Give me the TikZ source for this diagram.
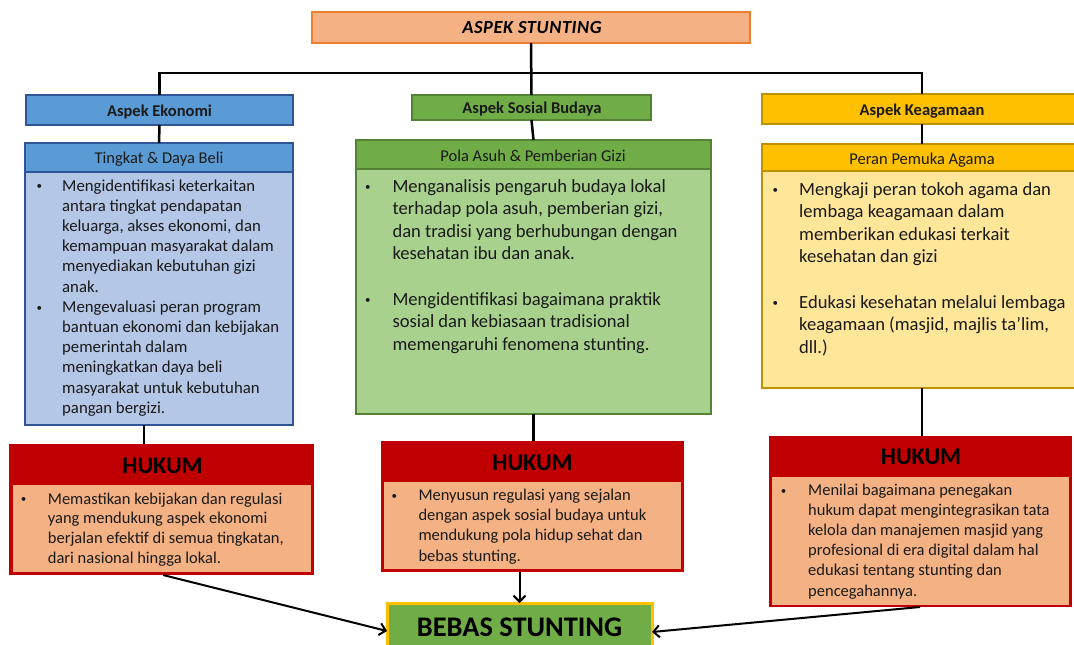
\documentclass[tikz,border=0pt]{standalone}
\usepackage{fontspec}
\setmainfont{Carlito}
\usetikzlibrary{arrows.meta}
\definecolor{ttlfill}{HTML}{F4B183}
\definecolor{ttlbord}{HTML}{ED7D31}
\definecolor{bluehd}{HTML}{5B9BD5}
\definecolor{bluebd}{HTML}{B4C7E7}
\definecolor{blueln}{HTML}{2F5597}
\definecolor{grnhd}{HTML}{70AD47}
\definecolor{grnbd}{HTML}{A9D18E}
\definecolor{grnln}{HTML}{548235}
\definecolor{ylwhd}{HTML}{FFC000}
\definecolor{ylwbd}{HTML}{FFE699}
\definecolor{ylwln}{HTML}{BF9000}
\definecolor{hkred}{HTML}{C00000}
\definecolor{hkbody}{HTML}{F4B183}
\definecolor{txt}{HTML}{1A1A1A}
\newcommand\smallbul{\hspace{2pt}\raisebox{1.2pt}{\fontsize{11}{11}\selectfont\textbullet}}
\newcommand\bl[2]{\noindent\hangindent=#1\hangafter=1\makebox[#1][l]{\smallbul}\ignorespaces#2\par}
\newcommand\gapline{\vspace{\baselineskip}}
\tikzset{
  box/.style={draw, line width=2.5pt, inner sep=0pt, outer sep=0pt, anchor=north west},
  plain/.style={inner sep=0pt, outer sep=0pt, anchor=north west},
  hdtext/.style={anchor=base, inner sep=0pt, text=txt, font=\fontsize{16.5}{20}\selectfont},
  hdbold/.style={anchor=base, inner sep=0pt, text=txt, font=\fontsize{16.5}{20}\selectfont\bfseries},
  hktext/.style={anchor=base, inner sep=0pt, text=black, font=\fontsize{24}{28}\selectfont\bfseries},
  bodytext/.style={anchor=base west, inner sep=0pt, text=txt},
  link/.style={line width=2.5pt, draw=black},
  arr/.style={line width=2pt, draw=black, -{Straight Barb[length=6pt,width=12pt,line width=2pt]}}
}
\begin{document}
\begin{tikzpicture}[x=1pt,y=-1pt]
\path[use as bounding box] (0,0) rectangle (1074,645);
\clip (0,0) rectangle (1074,645);
\fill[white] (0,0) rectangle (1074,645);

% title
\node[box, draw=ttlbord, fill=ttlfill, minimum width=438pt, minimum height=31pt] (title) at (312,12) {};
\node[anchor=base, inner sep=0pt, text=black, font=\fontsize{18.5}{20}\selectfont\bfseries\itshape\addfontfeature{LetterSpace=3}] (titletext) at (532,34) {ASPEK STUNTING};

% level 1
\node[box, draw=blueln, fill=bluehd, minimum width=267pt, minimum height=30pt] (ekon) at (26,95) {};
\node[hdbold] (ekontext) at (159.5,116) {Aspek Ekonomi};
\node[box, draw=grnln, fill=grnhd, minimum width=239pt, minimum height=25pt] (sos) at (412,95) {};
\node[hdbold] (sostext) at (532,113) {Aspek Sosial Budaya};
\node[box, draw=ylwln, fill=ylwhd, minimum width=320pt, minimum height=30pt] (kea) at (762,94) {};
\node[hdbold] (keatext) at (922,115) {Aspek Keagamaan};

% tree connectors
\coordinate (hl) at (0,73);
\draw[link] (title.south) -- (sos.north);
\draw[link] (ekon.north) -- (ekon.north |- hl) -- (kea.north |- hl) -- (kea.north);

% level 2 boxes
\node[box, draw=blueln, fill=bluebd, minimum width=268pt, minimum height=282pt] (ting) at (25,143) {};
\node[box, draw=blueln, fill=bluehd, minimum width=268pt, minimum height=29pt] (tinghd) at (25,143) {};
\node[hdtext] (tingtext) at (159,163) {Tingkat \& Daya Beli};

\node[box, draw=grnln, fill=grnbd, minimum width=355pt, minimum height=274pt] (pola) at (356,140) {};
\node[box, draw=grnln, fill=grnhd, minimum width=355pt, minimum height=29pt] (polahd) at (356,140) {};
\node[hdtext] (polatext) at (533,161) {Pola Asuh \& Pemberian Gizi};

\node[box, draw=ylwln, fill=ylwbd, minimum width=320pt, minimum height=244pt] (peran) at (762,144) {};
\node[box, draw=ylwln, fill=ylwhd, minimum width=320pt, minimum height=27pt] (peranhd) at (762,144) {};
\node[hdtext] (perantext) at (922,164) {Peran Pemuka Agama};

\draw[link] (ekon.south) -- (tinghd.north);
\draw[link] (sos.south) -- (polahd.north);
\draw[link] (kea.south) -- (peranhd.north);

% body texts
\node[bodytext, font=\fontsize{16.75}{20.2}\selectfont] (tingbody) at (34.3,191) {\parbox[t]{255pt}{%
\bl{27.7pt}{Mengidentifikasi keterkaitan\newline antara tingkat pendapatan\newline keluarga, akses ekonomi, dan\newline kemampuan masyarakat dalam\newline menyediakan kebutuhan gizi\newline anak.}%
\bl{27.7pt}{Mengevaluasi peran program\newline bantuan ekonomi dan kebijakan\newline pemerintah dalam\newline meningkatkan daya beli\newline masyarakat untuk kebutuhan\newline pangan bergizi.}}};

\node[bodytext, font=\fontsize{18.6}{22.6}\selectfont] (polabody) at (363,192) {\parbox[t]{345pt}{%
\bl{29.3pt}{Menganalisis pengaruh budaya lokal\newline terhadap pola asuh, pemberian gizi,\newline dan tradisi yang berhubungan dengan\newline kesehatan ibu dan anak.}%
\gapline
\bl{29.3pt}{Mengidentifikasi bagaimana praktik\newline sosial dan kebiasaan tradisional\newline memengaruhi fenomena stunting.}}};

\node[bodytext, font=\fontsize{18.6}{22.6}\selectfont] (peranbody) at (770.4,195) {\parbox[t]{320pt}{%
\bl{28.6pt}{Mengkaji peran tokoh agama dan\newline lembaga keagamaan dalam\newline memberikan edukasi terkait\newline kesehatan dan gizi}%
\gapline
\bl{28.6pt}{Edukasi kesehatan melalui lembaga\newline keagamaan (masjid, majlis ta’lim,\newline dll.)}}};

% HUKUM boxes
\node[plain, fill=hkred, minimum width=305pt, minimum height=131pt] (huk1) at (9,444) {};
\node[plain, fill=hkbody, minimum width=298.5pt, minimum height=87pt] (huk1in) at (12.5,485) {};
\node[hktext] (huk1title) at (162.5,473) {HUKUM};
\node[bodytext, font=\fontsize{16.5}{19.9}\selectfont] (huk1body) at (18.7,504) {\parbox[t]{290pt}{%
\bl{29pt}{Memastikan kebijakan dan regulasi\newline yang mendukung aspek ekonomi\newline berjalan efektif di semua tingkatan,\newline dari nasional hingga lokal.}}};

\node[plain, fill=hkred, minimum width=303pt, minimum height=131pt] (huk2) at (381,441) {};
\node[plain, fill=hkbody, minimum width=297pt, minimum height=87.5pt] (huk2in) at (384,481.5) {};
\node[hktext] (huk2title) at (532.5,470) {HUKUM};
\node[bodytext, font=\fontsize{16.5}{20.2}\selectfont] (huk2body) at (389.3,500.5) {\parbox[t]{290pt}{%
\bl{29pt}{Menyusun regulasi yang sejalan\newline dengan aspek sosial budaya untuk\newline mendukung pola hidup sehat dan\newline bebas stunting.}}};

\node[plain, fill=hkred, minimum width=303pt, minimum height=171pt] (huk3) at (769,436) {};
\node[plain, fill=hkbody, minimum width=297pt, minimum height=127.5pt] (huk3in) at (772,477) {};
\node[hktext] (huk3title) at (921,464) {HUKUM};
\node[bodytext, font=\fontsize{16.5}{20.1}\selectfont] (huk3body) at (778.7,495.5) {\parbox[t]{290pt}{%
\bl{29.3pt}{Menilai bagaimana penegakan\newline hukum dapat mengintegrasikan tata\newline kelola dan manajemen masjid yang\newline profesional di era digital dalam hal\newline edukasi tentang stunting dan\newline pencegahannya.}}};

\coordinate (x1) at (144,0);
\draw[link] (ting.south -| x1) -- (huk1.north -| x1);
\draw[link] (pola.south) -- (huk2.north -| pola.south);
\draw[link] (peran.south) -- (huk3.north -| peran.south);

% result
\node[box, draw=ylwhd, fill=grnhd, line width=3pt, minimum width=265pt, minimum height=50pt] (bebas) at (387,603) {};
\node[anchor=base, inner sep=0pt, text=black, font=\fontsize{28.4}{32}\selectfont\bfseries] (bebastext) at (519.5,636) {BEBAS STUNTING};

\coordinate (a1) at (163,0);
\coordinate (a3) at (920,0);
\coordinate (bl) at (0,631);
\coordinate (br) at (0,632);
\draw[arr] (huk1.south -| a1) -- (bebas.west |- bl);
\draw[arr] (bebas.north |- huk2.south) -- (bebas.north);
\draw[arr] (huk3.south -| a3) -- (bebas.east |- br);
\end{tikzpicture}
\end{document}
